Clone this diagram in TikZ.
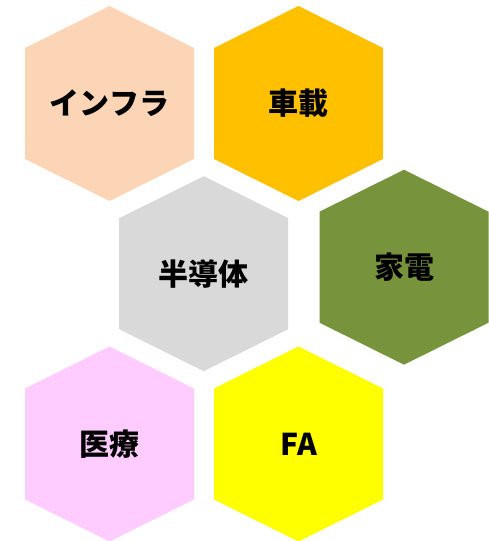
\documentclass[tikz,border=0pt]{standalone}
\usepackage{fontspec}
\newfontfamily\cjk{Noto Sans CJK JP}
\definecolor{cPeach}{HTML}{FBD5B5}
\definecolor{cGold}{HTML}{FFC000}
\definecolor{cGray}{HTML}{D9D9D9}
\definecolor{cGreen}{HTML}{77933C}
\definecolor{cPink}{HTML}{FFCCFF}
\definecolor{cYellow}{HTML}{FFFF00}
\newcommand\myhex[5]{%
  \fill[#3] (#1,#2+97.5) -- (#1+84.5,#2+55.5) -- (#1+84.5,#2-55.5) -- (#1,#2-97.5)
    -- (#1-84.5,#2-55.5) -- (#1-84.5,#2+55.5) -- cycle;
  \node[hexlabel] (#4) at (#1,#2) {#5};}
\begin{document}
\begin{tikzpicture}[x=1pt,y=1pt,
  hexlabel/.style={font=\cjk\bfseries\fontsize{30}{36}\selectfont, text=black, inner sep=0pt}]
\useasboundingbox (0,0) rectangle (489,541);
\myhex{109.5}{437.5}{cPeach}{infra}{インフラ}
\myhex{298.5}{437.5}{cGold}{shasai}{車載}
\myhex{203.7}{267.3}{cGray}{handotai}{半導体}
\myhex{404}{273.8}{cGreen}{kaden}{家電}
\myhex{109.5}{97}{cPink}{iryo}{医療}
\myhex{298.5}{97}{cYellow}{fa}{FA}
\end{tikzpicture}
\end{document}
